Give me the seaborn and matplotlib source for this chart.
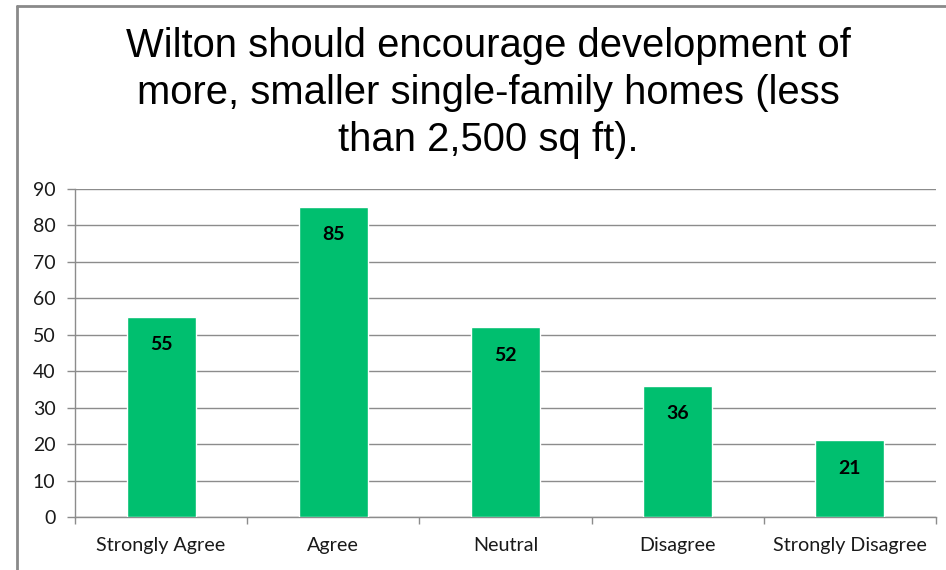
import matplotlib
matplotlib.use("Agg")
import matplotlib.pyplot as plt
from matplotlib.lines import Line2D
import seaborn as sns
import pandas as pd

categories = ["Strongly Agree", "Agree", "Neutral", "Disagree", "Strongly Disagree"]
responses = [55, 85, 52, 36, 21]
y_ticks = [0, 10, 20, 30, 40, 50, 60, 70, 80, 90]
title = "Wilton should encourage development of\nmore, smaller single-family homes (less\nthan 2,500 sq ft)."

sns.set_theme(style="white")
plt.rcParams["font.family"] = ["Lato", "DejaVu Sans"]

df = pd.DataFrame({"category": categories, "count": responses})

fig = plt.figure(figsize=(9.46, 5.70), dpi=100)
ax = fig.add_axes([75 / 946, 1 - 517 / 570, (936 - 75) / 946, (517 - 189) / 570])

sns.barplot(data=df, x="category", y="count", color="#00BF6F", saturation=1,
            width=0.4, ax=ax, zorder=3)

ax.set_ylim(0, 90)
ax.set_xlim(-0.5, len(categories) - 0.5)
ax.set_yticks(y_ticks)
ax.set_yticklabels([str(v) for v in y_ticks], fontsize=14, color="#1a1a1a")
ax.set_xticks(range(len(categories)))
ax.set_xticklabels(categories, fontsize=14.2, color="#1a1a1a")
ax.set_xlabel("")
ax.set_ylabel("")

# category boundary ticks on the x axis
ax.set_xticks([i - 0.5 for i in range(len(categories) + 1)], minor=True)
ax.tick_params(axis="x", which="major", length=0, pad=14.5)
ax.tick_params(axis="x", which="minor", length=5, width=1, color="#8c8c8c",
               direction="out", bottom=True)
ax.tick_params(axis="y", which="major", length=6, width=1, color="#8c8c8c",
               direction="out", left=True, pad=8)

ax.yaxis.grid(True, color="#8c8c8c", linewidth=1)
ax.set_axisbelow(True)
for side in ["top", "right"]:
    ax.spines[side].set_visible(False)
for side in ["left", "bottom"]:
    ax.spines[side].set_color("#8c8c8c")
    ax.spines[side].set_linewidth(1)

# value labels just inside the top of each bar
for container in ax.containers:
    ax.bar_label(container, labels=[str(v) for v in responses], padding=-26,
                 fontsize=14, fontweight="bold", color="black")

fig.text(488 / 946, 1 - 93 / 570, title, ha="center", va="center",
         fontsize=28.8, family=["Liberation Sans", "DejaVu Sans"],
         linespacing=1.29, color="black")

# chart frame
fig.add_artist(Line2D([17 / 946, 17 / 946], [-0.1, 1 - 6 / 570],
                      transform=fig.transFigure, color="#8a8a8a", linewidth=2))
fig.add_artist(Line2D([17 / 946, 1.1], [1 - 6 / 570, 1 - 6 / 570],
                      transform=fig.transFigure, color="#8a8a8a", linewidth=2))

fig.savefig("out.png", dpi=100, facecolor="white")
